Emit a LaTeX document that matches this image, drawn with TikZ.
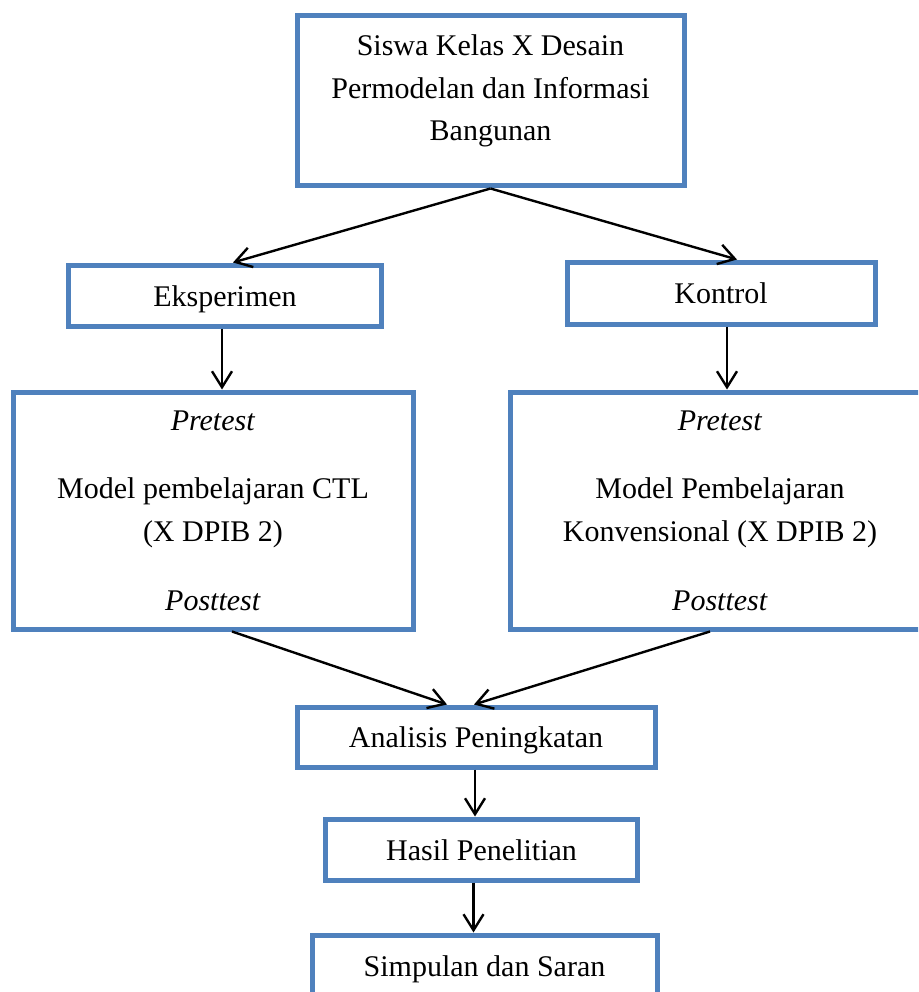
\documentclass[tikz,border=0pt]{standalone}
\usepackage{fontspec}
\setmainfont{Liberation Serif}
\usetikzlibrary{arrows.meta}
\usetikzlibrary{positioning}
\definecolor{mblue}{RGB}{79, 129, 189}
\tikzset{box/.style = {draw=mblue, line width=5pt, inner sep=0pt,
                       font=\fontsize{30}{42.5}\selectfont,
                       text height=22pt, text depth=1pt}}
\tikzset{boxtext/.style = {inner sep=0pt, outer sep=0pt, align=center,
                           font=\fontsize{30}{42.5}\selectfont}}
\tikzset{flow/.style = {line width=2.4pt,
                        -{Straight Barb[length=16pt, width=20pt]}}}

\begin{document}
\begin{tikzpicture}[x=1pt, y=-1pt]
    \clip (0, 0) rectangle (918, 992);

    \node [box, minimum width=387pt, minimum height=170pt] (siswa) at (490.5, 101) {};
    \node [boxtext, below=21.5pt of siswa.north] (siswatext)
        {Siswa Kelas X Desain\\Permodelan dan Informasi\\Bangunan};

    \node [box, minimum width=313pt, minimum height=61pt] (eks) at (225, 295.5) {Eksperimen};
    \node [box, minimum width=308pt, minimum height=62pt] (kon) at (721, 293) {Kontrol};

    \node [box, minimum width=400pt, minimum height=237pt] (ctl) at (213, 510.5) {};
    \node [boxtext, below=21pt of ctl.north] (ctltext)
        {\textit{Pretest}\\[26pt]Model pembelajaran CTL\\(X DPIB 2)\\[27pt]\textit{Posttest}};

    \node [box, minimum width=420pt, minimum height=237pt] (konv) at (720, 510.5) {};
    \node [boxtext, below=21pt of konv.north] (konvtext)
        {\textit{Pretest}\\[26pt]Model Pembelajaran\\Konvensional (X DPIB 2)\\[27pt]\textit{Posttest}};

    \node [box, minimum width=358pt, minimum height=60pt] (anal) at (476, 737) {Analisis Peningkatan};
    \node [box, minimum width=312pt, minimum height=61pt] (hasil) at (481.5, 849.5) {Hasil Penelitian};
    \node [box, minimum width=345pt, minimum height=62pt] (simp) at (484.5, 966) {Simpulan dan Saran};

    \draw [flow] (siswa.south) -- ([xshift=8pt]eks.north);
    \draw [flow] (siswa.south) -- ([xshift=16pt]kon.north);
    \draw [flow] ([xshift=-3pt]eks.south) -- ([xshift=-3pt]eks.south |- ctl.north);
    \draw [flow] ([xshift=6pt]kon.south) -- ([xshift=6pt]kon.south |- konv.north);
    \draw [flow] ([xshift=19pt]ctl.south) -- ([xshift=-29pt]anal.north);
    \draw [flow] ([xshift=-10pt]konv.south) -- ([xshift=-2pt]anal.north);
    \draw [flow] ([xshift=-1pt]anal.south) -- ([xshift=-1pt]anal.south |- hasil.north);
    \draw [flow] ([xshift=-8pt]hasil.south) -- ([xshift=-8pt]hasil.south |- simp.north);
\end{tikzpicture}
\end{document}
